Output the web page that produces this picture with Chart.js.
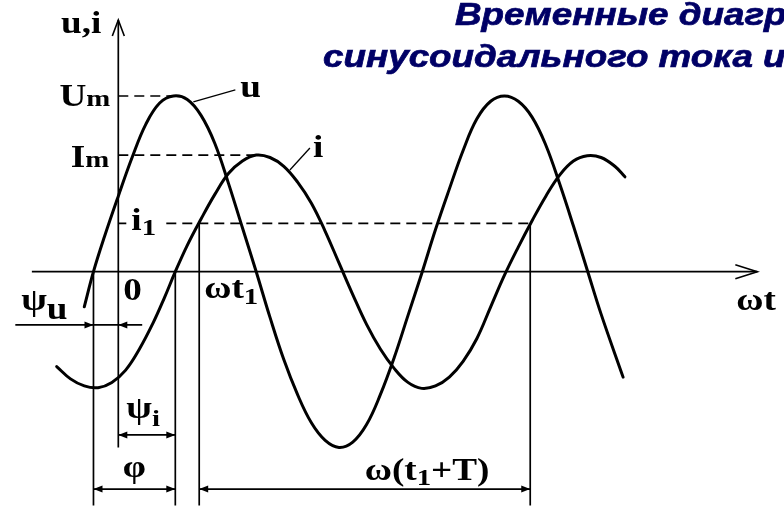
<!DOCTYPE html>
<html>
<head>
<meta charset="utf-8">
<script src="https://cdn.jsdelivr.net/npm/chart.js@4/dist/chart.umd.min.js"></script>
<style>
  html, body { margin: 0; padding: 0; background: #ffffff; }
  #wrap { position: relative; width: 784px; height: 507px; }
</style>
</head>
<body>
<div id="wrap"><canvas id="diagram"></canvas></div>
<script>
// Voltage u(ωt): angle in degrees of ωt, value relative to Um
const uAngle = [-37, -27, -15, 0, 15, 30, 45, 60, 75, 90, 105, 120, 135, 150, 165, 180, 195, 210, 225, 240, 255, 270, 285, 300, 315, 330, 345, 360, 375, 390, 405, 420, 435, 450, 465, 480, 495, 510, 525, 549];
const uValue = [-0.20, 0.00, 0.20, 0.43, 0.65, 0.84, 0.96, 1.00, 0.98, 0.89, 0.73, 0.50, 0.25, 0.00, -0.26, -0.50, -0.70, -0.86, -0.96, -1.00, -0.97, -0.87, -0.70, -0.49, -0.25, -0.01, 0.24, 0.47, 0.69, 0.87, 0.97, 1.00, 0.97, 0.88, 0.72, 0.50, 0.26, 0.01, -0.24, -0.60];

// Current i(ωt): same angle scale, same value scale
const iAngle = [-67, -52, -37, -22, -7, 8, 23, 38, 50, 62, 75, 90, 105, 120, 135, 150, 165, 180, 195, 210, 225, 240, 255, 270, 285, 300, 315, 330, 345, 360, 375, 390, 405, 420, 435, 450, 465, 480, 495, 510, 525, 540, 551];
const iValue = [-0.54, -0.61, -0.65, -0.66, -0.63, -0.56, -0.44, -0.29, -0.15, 0.00, 0.15, 0.30, 0.44, 0.56, 0.63, 0.664, 0.65, 0.60, 0.51, 0.39, 0.23, 0.05, -0.13, -0.30, -0.44, -0.55, -0.63, -0.664, -0.65, -0.60, -0.51, -0.38, -0.20, -0.02, 0.14, 0.29, 0.43, 0.55, 0.63, 0.66, 0.65, 0.60, 0.54];

// Amplitudes, instantaneous value and phase angles (degrees)
const Um = 1.0;
const Im = 0.664;
const i1 = 0.2755;
const psiU = -27;
const psiI = 62;
const wt1 = 88;
const period = 360;
const uPeakAngle = 60;
const iPeakAngle = 152;

// Axis and annotation labels
const axisLabels = { y: "u,i", x: "ωt", origin: "0" };
const titleLines = ["Временные диаграммы", "синусоидального тока и напряжения"];

// Layout of the drawing in value units
const view = { xMin: -128.66, xMax: 724.0, yMin: -1.3392, yMax: 1.5464 };
const axisExtent = { xFrom: -94, xTo: 695, yFrom: -1.0, yTo: 1.433 };
const guideBottom = -1.33;
const dimLevels = { psiU: -0.303, psiI: -0.929, lower: -1.237 };

const pts = (xs, ys) => xs.map((x, k) => ({ x: x, y: ys[k] }));
const seg = (x1, y1, x2, y2) => [{ x: x1, y: y1 }, { x: x2, y: y2 }];

const thin = (data, extra) => Object.assign({
  data: data, borderColor: "#000", borderWidth: 1.7, pointRadius: 0, tension: 0, fill: false
}, extra || {});

const datasets = [
  { label: "u", data: pts(uAngle, uValue), borderColor: "#000", borderWidth: 3, pointRadius: 0,
    tension: 0.4, fill: false, borderCapStyle: "round", borderJoinStyle: "round" },
  { label: "i", data: pts(iAngle, iValue), borderColor: "#000", borderWidth: 3, pointRadius: 0,
    tension: 0.4, fill: false, borderCapStyle: "round", borderJoinStyle: "round" },
  // axes
  thin(seg(axisExtent.xFrom, 0, axisExtent.xTo, 0)),
  thin(seg(0, axisExtent.yFrom, 0, axisExtent.yTo)),
  // amplitude and instantaneous value levels
  thin(seg(0, Um, uPeakAngle, Um), { borderDash: [10, 6] }),
  thin(seg(0, Im, iPeakAngle, Im), { borderDash: [10, 6] }),
  thin(seg(0, i1, wt1 + period, i1), { borderDash: [10, 6] }),
  // extension lines
  thin(seg(psiU, 0, psiU, guideBottom)),
  thin(seg(psiI, 0, psiI, guideBottom)),
  thin(seg(wt1, i1, wt1, guideBottom)),
  thin(seg(wt1 + period, i1, wt1 + period, guideBottom)),
  // dimension lines
  thin(seg(-112, dimLevels.psiU, 26, dimLevels.psiU)),
  thin(seg(0, dimLevels.psiI, psiI, dimLevels.psiI)),
  thin(seg(psiU, dimLevels.lower, psiI, dimLevels.lower)),
  thin(seg(wt1, dimLevels.lower, wt1 + period, dimLevels.lower)),
  // curve callouts
  thin(seg(81.6, 0.967, 127.3, 1.035), { borderWidth: 1.3 }),
  thin(seg(186.6, 0.579, 208.4, 0.704), { borderWidth: 1.3 })
];

const SX = 1.2; // horizontal stretch of lettering
const serif = (px) => "bold " + px + "px 'Liberation Serif', 'Times New Roman', serif";

function runWidth(ctx, parts) {
  let w = 0;
  parts.forEach(p => { ctx.font = p.f; w += ctx.measureText(p.t).width * SX; });
  return w;
}
function drawRun(ctx, parts, x, y, align) {
  const w = runWidth(ctx, parts);
  let cx = align === "right" ? x - w : align === "center" ? x - w / 2 : x;
  parts.forEach(p => {
    ctx.font = p.f;
    ctx.save();
    ctx.translate(cx, y + (p.dy || 0));
    ctx.scale(SX, 1);
    ctx.fillText(p.t, 0, 0);
    ctx.restore();
    cx += ctx.measureText(p.t).width * SX;
  });
  return w;
}
function arrowHead(ctx, x, y, dir) {
  ctx.beginPath();
  ctx.moveTo(x, y);
  ctx.lineTo(x - dir * 9, y - 3.5);
  ctx.lineTo(x - dir * 9, y + 3.5);
  ctx.closePath();
  ctx.fill();
}

const annotations = {
  id: "annotations",
  afterDatasetsDraw(chart) {
    const ctx = chart.ctx;
    const xs = chart.scales.x, ys = chart.scales.y;
    const X = v => xs.getPixelForValue(v);
    const Y = v => ys.getPixelForValue(v);
    const X0 = X(0), Y0 = Y(0);
    const M = serif(31), S = serif(24);

    ctx.save();
    ctx.fillStyle = "#000";
    ctx.strokeStyle = "#000";
    ctx.textBaseline = "alphabetic";

    // arrow tips of the axes
    ctx.lineWidth = 1.6;
    const yt = Y(axisExtent.yTo);
    ctx.beginPath();
    ctx.moveTo(X0 - 6, yt + 16); ctx.lineTo(X0, yt); ctx.lineTo(X0 + 6, yt + 16);
    ctx.stroke();
    const xt = X(axisExtent.xTo);
    ctx.beginPath();
    ctx.moveTo(xt - 22, Y0 - 7); ctx.lineTo(xt, Y0); ctx.lineTo(xt - 22, Y0 + 7);
    ctx.stroke();

    // dimension arrows
    arrowHead(ctx, X(psiU), Y(dimLevels.psiU), 1);
    arrowHead(ctx, X0, Y(dimLevels.psiU), -1);
    arrowHead(ctx, X0, Y(dimLevels.psiI), -1);
    arrowHead(ctx, X(psiI), Y(dimLevels.psiI), 1);
    arrowHead(ctx, X(psiU), Y(dimLevels.lower), -1);
    arrowHead(ctx, X(psiI), Y(dimLevels.lower), 1);
    arrowHead(ctx, X(wt1), Y(dimLevels.lower), -1);
    arrowHead(ctx, X(wt1 + period), Y(dimLevels.lower), 1);

    // labels
    drawRun(ctx, [{ t: axisLabels.y, f: M }], X0 - 17, yt + 13, "right");
    drawRun(ctx, [{ t: "U", f: M }, { t: "m", f: S }], X0 - 8, Y(Um) + 10, "right");
    drawRun(ctx, [{ t: "I", f: M }, { t: "m", f: S }], X0 - 9, Y(Im) + 12, "right");

    ctx.fillStyle = "#fff";
    ctx.fillRect(X0 + 8, Y(i1) - 14, 36, 28);
    ctx.fillStyle = "#000";
    drawRun(ctx, [{ t: "i", f: M }, { t: "1", f: S, dy: 5 }], X0 + 13, Y(i1) + 7, "left");

    drawRun(ctx, [{ t: axisLabels.origin, f: M }], X0 + 5, Y0 + 28, "left");
    drawRun(ctx, [{ t: "ωt", f: M }, { t: "1", f: S, dy: 6 }], X(wt1) + 5, Y0 + 26, "left");
    drawRun(ctx, [{ t: "ψ", f: M }, { t: "u", f: M, dy: 9 }], X(psiU) - 26, Y0 + 38, "right");
    drawRun(ctx, [{ t: "ψ", f: M }, { t: "i", f: S, dy: 8 }], X0 + 8, Y(dimLevels.psiI) - 17, "left");
    drawRun(ctx, [{ t: "φ", f: M }], (X(psiU) + X(psiI)) / 2, Y(dimLevels.lower) - 12, "center");
    drawRun(ctx, [{ t: "ω(t", f: M }, { t: "1", f: S, dy: 5 }, { t: "+T)", f: M }],
      X(wt1 + period / 2), Y(dimLevels.lower) - 9, "left");
    drawRun(ctx, [{ t: axisLabels.x, f: M }], xt - 21, Y0 + 38, "left");
    drawRun(ctx, [{ t: "u", f: M }], X(127.3) + 5, Y(1.035) + 7, "left");
    drawRun(ctx, [{ t: "i", f: M }], X(208.4) + 3, Y(0.704) + 9, "left");

    // heading
    ctx.fillStyle = "#000066";
    ctx.strokeStyle = "#000066";
    ctx.lineWidth = 0.7;
    ctx.font = "bold italic 32px 'Liberation Sans', Arial, sans-serif";
    const TS = 1.15;
    [[titleLines[0], 455, 25], [titleLines[1], 323, 67]].forEach(([t, x, y]) => {
      ctx.save();
      ctx.translate(x, y);
      ctx.scale(TS, 1);
      ctx.fillText(t, 0, 0);
      ctx.strokeText(t, 0, 0);
      ctx.restore();
    });
    ctx.restore();
  }
};

new Chart(document.getElementById("diagram"), {
  type: "line",
  data: { datasets: datasets },
  options: {
    responsive: true,
    maintainAspectRatio: false,
    animation: false,
    events: [],
    layout: { padding: 0 },
    plugins: { legend: { display: false }, tooltip: { enabled: false }, title: { display: false } },
    scales: {
      x: { type: "linear", display: false, min: view.xMin, max: view.xMax },
      y: { type: "linear", display: false, min: view.yMin, max: view.yMax }
    }
  },
  plugins: [annotations]
});
</script>
</body>
</html>
